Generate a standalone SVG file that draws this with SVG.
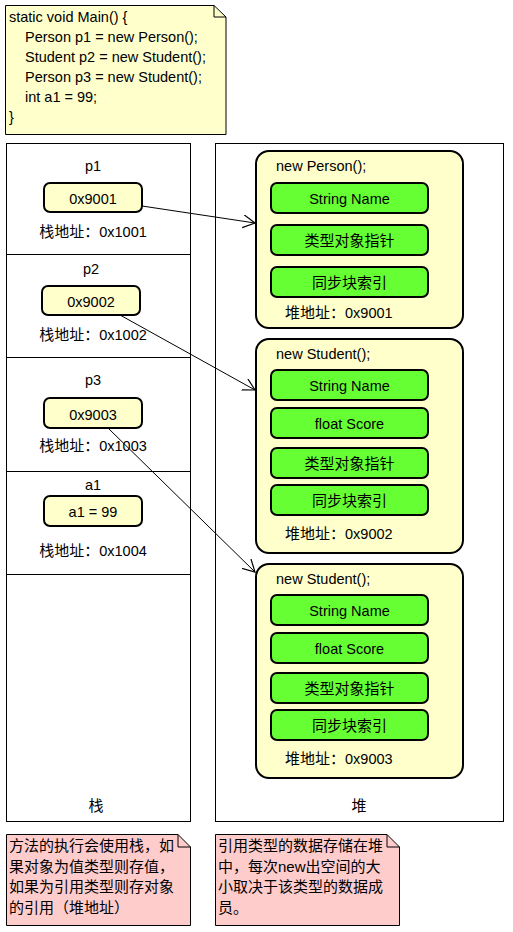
<svg xmlns="http://www.w3.org/2000/svg" width="513" height="932" viewBox="0 0 513 932">
<defs>
<style>
text{font-family:"Liberation Sans","Noto Sans CJK SC",sans-serif;font-size:14.5px;fill:#000}
.c{text-anchor:middle}
.cj{font-size:15px}
.frame{fill:#fff;stroke:#000;stroke-width:1}
.note{fill:#ffffcc;stroke:#000;stroke-width:1}
.pnote{fill:#ffcccc;stroke:#000;stroke-width:1}
.val{fill:#ffffcc;stroke:#000;stroke-width:2}
.obj{fill:#ffffcc;stroke:#000;stroke-width:2}
.fld{fill:#66ff33;stroke:#000;stroke-width:2}
.edge{stroke:#000;stroke-width:1;fill:none}
</style>
<marker id="arr" markerUnits="userSpaceOnUse" markerWidth="14" markerHeight="14" refX="12" refY="6.5" orient="auto" viewBox="0 0 14 14">
<path d="M0,0 L12,6.5 L0,13" fill="none" stroke="#000" stroke-width="1.2"/>
</marker>
</defs>
<rect width="513" height="932" fill="#fff"/>

<g id="code-note">
<path class="note" d="M5.5,5.5 H214 L226,17 V134.5 H5.5 Z"/>
<path d="M214,5.5 V17 H226" fill="none" stroke="#000"/>
<text x="9" y="22">static void Main() {</text>
<text x="25" y="42">Person p1 = new Person();</text>
<text x="25" y="62">Student p2 = new Student();</text>
<text x="25" y="82">Person p3 = new Student();</text>
<text x="25" y="102">int a1 = 99;</text>
<text x="9" y="122">}</text>
</g>

<g id="stack">
<rect class="frame" x="6.5" y="143.5" width="184" height="678"/>
<line x1="6.5" y1="254.5" x2="190.5" y2="254.5" stroke="#000"/>
<line x1="6.5" y1="357.5" x2="190.5" y2="357.5" stroke="#000"/>
<line x1="6.5" y1="471.5" x2="190.5" y2="471.5" stroke="#000"/>
<line x1="6.5" y1="574.5" x2="190.5" y2="574.5" stroke="#000"/>
<text class="c cj" x="96" y="811">栈</text>
</g>

<g id="heap">
<rect class="frame" x="215.5" y="143.5" width="288" height="678"/>
<text class="c cj" x="359" y="811">堆</text>
</g>

<g id="p1">
<text class="c" x="93" y="171">p1</text>
<rect class="val" x="44" y="183" width="98" height="29" rx="6"/>
<text class="c" x="93" y="204">0x9001</text>
<text class="c" x="93" y="237"><tspan class="cj">栈地址：</tspan>0x1001</text>
</g>

<g id="p2">
<text class="c" x="91" y="274">p2</text>
<rect class="val" x="42" y="286" width="98" height="29" rx="6"/>
<text class="c" x="91" y="307">0x9002</text>
<text class="c" x="93" y="340"><tspan class="cj">栈地址：</tspan>0x1002</text>
</g>

<g id="p3">
<text class="c" x="93" y="385">p3</text>
<rect class="val" x="44" y="398" width="98" height="30" rx="6"/>
<text class="c" x="93" y="420">0x9003</text>
<text class="c" x="93" y="451"><tspan class="cj">栈地址：</tspan>0x1003</text>
</g>

<g id="a1">
<text class="c" x="93" y="490">a1</text>
<rect class="val" x="44" y="496" width="98" height="30" rx="6"/>
<text class="c" x="93" y="517">a1 = 99</text>
<text class="c" x="93" y="556"><tspan class="cj">栈地址：</tspan>0x1004</text>
</g>

<g id="obj1">
<rect class="obj" x="256" y="151" width="207" height="177" rx="13"/>
<text x="276" y="171">new Person();</text>
<rect class="fld" x="271" y="183" width="157" height="30" rx="6"/>
<text class="c" x="349.5" y="204">String Name</text>
<rect class="fld" x="271" y="225" width="157" height="30" rx="6"/>
<text class="c cj" x="349.5" y="246">类型对象指针</text>
<rect class="fld" x="271" y="267" width="157" height="30" rx="6"/>
<text class="c cj" x="349.5" y="288">同步块索引</text>
<text x="285" y="318"><tspan class="cj">堆地址：</tspan>0x9001</text>
</g>

<g id="obj2">
<rect class="obj" x="256" y="339" width="207" height="214" rx="13"/>
<text x="276" y="359">new Student();</text>
<rect class="fld" x="271" y="370" width="157" height="30" rx="6"/>
<text class="c" x="349.5" y="391">String Name</text>
<rect class="fld" x="271" y="408" width="157" height="30" rx="6"/>
<text class="c" x="349.5" y="429">float Score</text>
<rect class="fld" x="271" y="448" width="157" height="30" rx="6"/>
<text class="c cj" x="349.5" y="469">类型对象指针</text>
<rect class="fld" x="271" y="485" width="157" height="30" rx="6"/>
<text class="c cj" x="349.5" y="506">同步块索引</text>
<text x="285" y="539"><tspan class="cj">堆地址：</tspan>0x9002</text>
</g>

<g id="obj3">
<rect class="obj" x="256" y="564" width="207" height="214" rx="13"/>
<text x="276" y="584">new Student();</text>
<rect class="fld" x="271" y="595" width="157" height="30" rx="6"/>
<text class="c" x="349.5" y="616">String Name</text>
<rect class="fld" x="271" y="633" width="157" height="30" rx="6"/>
<text class="c" x="349.5" y="654">float Score</text>
<rect class="fld" x="271" y="673" width="157" height="30" rx="6"/>
<text class="c cj" x="349.5" y="694">类型对象指针</text>
<rect class="fld" x="271" y="710" width="157" height="30" rx="6"/>
<text class="c cj" x="349.5" y="731">同步块索引</text>
<text x="285" y="764"><tspan class="cj">堆地址：</tspan>0x9003</text>
</g>

<g id="connectors">
<line class="edge" x1="142" y1="206" x2="255" y2="223" marker-end="url(#arr)"/>
<line class="edge" x1="120" y1="315" x2="255" y2="390" marker-end="url(#arr)"/>
<line class="edge" x1="108" y1="428" x2="255" y2="572" marker-end="url(#arr)"/>
</g>

<g id="stack-note">
<path class="pnote" d="M6.5,834.5 H178 L190.5,847 V925.5 H6.5 Z"/>
<path d="M178,834.5 V847 H190.5" fill="none" stroke="#000"/>
<text class="cj" x="9" y="851">方法的执行会使用栈，如</text>
<text class="cj" x="9" y="872">果对象为值类型则存值，</text>
<text class="cj" x="9" y="892">如果为引用类型则存对象</text>
<text class="cj" x="9" y="913">的引用（堆地址）</text>
</g>

<g id="heap-note">
<path class="pnote" d="M215.5,834.5 H387 L399.5,847 V925.5 H215.5 Z"/>
<path d="M387,834.5 V847 H399.5" fill="none" stroke="#000"/>
<text class="cj" x="218" y="851">引用类型的数据存储在堆</text>
<text class="cj" x="218" y="872">中，每次new出空间的大</text>
<text class="cj" x="218" y="892">小取决于该类型的数据成</text>
<text class="cj" x="218" y="913">员。</text>
</g>
</svg>
